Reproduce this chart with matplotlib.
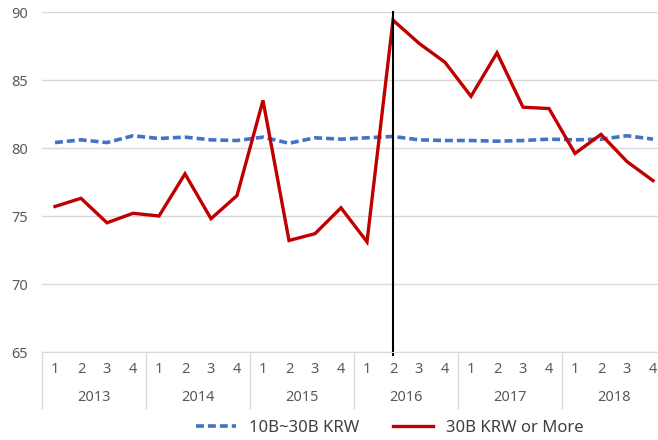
import matplotlib
matplotlib.use("Agg")
import matplotlib.pyplot as plt
import matplotlib.transforms as mtransforms
import numpy as np
from matplotlib.lines import Line2D

years = ["2013", "2014", "2015", "2016", "2017", "2018"]
quarters = ["1", "2", "3", "4"]

mid_band = [80.4, 80.6, 80.4, 80.9, 80.7, 80.8, 80.6, 80.55,
            80.8, 80.35, 80.75, 80.65, 80.75, 80.85, 80.6, 80.55,
            80.55, 80.5, 80.55, 80.65, 80.6, 80.65, 80.9, 80.65]
large = [75.7, 76.3, 74.5, 75.2, 75.0, 78.1, 74.8, 76.5,
         83.5, 73.2, 73.7, 75.6, 73.1, 89.4, 87.7, 86.3,
         83.8, 87.0, 83.0, 82.9, 79.6, 81.0, 79.0, 77.6]
event_idx = 13  # 2016 Q2

BLUE, RED, GRID, TXT = "#4472C4", "#C00000", "#D9D9D9", "#595959"

plt.rcParams["font.family"] = ["Noto Sans", "DejaVu Sans"]

fig = plt.figure(figsize=(6.58, 4.4), dpi=100)
ax = fig.add_axes([42 / 658, 1 - 352 / 440, 624 / 658, 340 / 440])

n = len(large)
x = np.arange(n) + 0.5
ax.plot(x, mid_band, color=BLUE, lw=2.6, ls=(0, (2.2, 1.1)), solid_capstyle="round")
ax.plot(x, large, color=RED, lw=2.4, solid_joinstyle="miter")
ax.axvline(x[event_idx], ymin=-0.01, ymax=1.0, color="black", lw=1.5, clip_on=False)

ax.set_xlim(0, n)
ax.set_ylim(65, 90)
ax.set_yticks([65, 70, 75, 80, 85, 90])
ax.yaxis.grid(True, color=GRID, lw=1)
ax.set_axisbelow(True)
ax.tick_params(axis="y", length=0, pad=10, labelsize=10.5, labelcolor=TXT)
ax.set_xticks([])
for s in ["top", "right", "left"]:
    ax.spines[s].set_visible(False)
ax.spines["bottom"].set_color(GRID)

# two-level category axis
trans = mtransforms.blended_transform_factory(ax.transData, ax.transAxes)
for i in range(n):
    ax.text(x[i], -0.052, quarters[i % 4], transform=trans, ha="center", va="center",
            fontsize=10.5, color=TXT)
for j, yr in enumerate(years):
    ax.text(j * 4 + 2, -0.135, yr, transform=trans, ha="center", va="center",
            fontsize=10.5, color=TXT)
for j in range(len(years) + 1):
    ax.plot([j * 4, j * 4], [0, -0.165], transform=trans, color=GRID, lw=1, clip_on=False)

handles = [Line2D([], [], color=BLUE, lw=2.6, ls=(0, (2.2, 1.1))),
           Line2D([], [], color=RED, lw=2.4)]
fig.legend(handles, ["10B~30B KRW", "30B KRW or More"], loc="center",
           bbox_to_anchor=(390 / 658, 1 - 428 / 440), ncol=2, frameon=False,
           fontsize=12, handlelength=2.4, columnspacing=2.0, labelcolor="#404040")

fig.savefig("out.png", dpi=100)
